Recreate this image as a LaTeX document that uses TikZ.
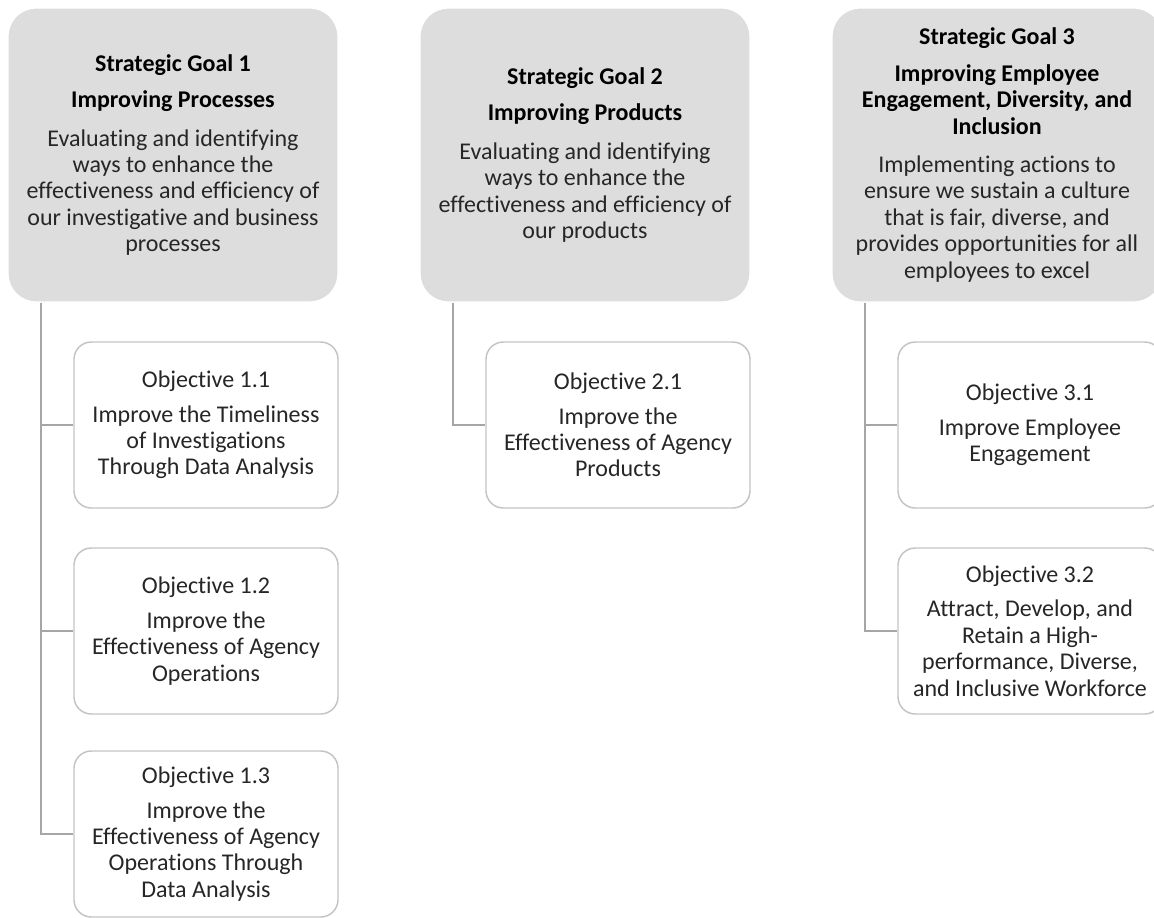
\documentclass[tikz,border=0pt]{standalone}
\usepackage{fontspec}
\setmainfont{Carlito}[Ligatures=NoCommon]
\definecolor{goalfill}{HTML}{DDDDDD}
\definecolor{objline}{HTML}{C4C4C4}
\definecolor{linkgray}{HTML}{A6A6A6}
\definecolor{bodytext}{HTML}{262626}
\newcommand{\goalhead}[1]{\textbf{\textcolor{black}{#1}}}
\tikzset{
  goal/.style={rounded corners=21pt, fill=goalfill, draw=white, line width=1pt,
    minimum width=247.5pt, minimum height=220.5pt, inner sep=0pt, align=center,
    text=bodytext, font=\fontsize{18}{19.8}\selectfont},
  objective/.style={rounded corners=13pt, fill=white, draw=objline, line width=1.1pt,
    minimum width=198pt, minimum height=124.5pt, inner sep=0pt, align=center,
    text=bodytext, font=\fontsize{18}{19.8}\selectfont},
  link/.style={draw=linkgray, line width=1.6pt}
}
\begin{document}
\begin{tikzpicture}[x=0.75pt, y=-0.75pt]
  \useasboundingbox (0,0) rectangle (1154,918);
  % Goals
  \node[goal] (g1) at (173,155) {\goalhead{Strategic Goal 1}\\[7.5pt]\goalhead{Improving Processes}\\[9pt]Evaluating and identifying\\ways to enhance the\\effectiveness and efficiency of\\our investigative and business\\processes};
  \node[goal] (g2) at (585,155) {\goalhead{Strategic Goal 2}\\[7.5pt]\goalhead{Improving Products}\\[9pt]Evaluating and identifying\\ways to enhance the\\effectiveness and efficiency of\\our products};
  \node[goal] (g3) at (997,155) {\goalhead{Strategic Goal 3}\\[7.5pt]\goalhead{Improving Employee}\\\goalhead{Engagement, Diversity, and}\\\goalhead{Inclusion}\\[9pt]Implementing actions to\\ensure we sustain a culture\\that is fair, diverse, and\\provides opportunities for all\\employees to excel};
  % Objectives
  \node[objective] (o11) at (206,425) {Objective 1.1\\[6pt]Improve the Timeliness\\of Investigations\\Through Data Analysis};
  \node[objective] (o12) at (206,631) {Objective 1.2\\[6pt]Improve the\\Effectiveness of Agency\\Operations};
  \node[objective] (o13) at (206,834) {Objective 1.3\\[6pt]Improve the\\Effectiveness of Agency\\Operations Through\\Data Analysis};
  \node[objective] (o21) at (618,425) {Objective 2.1\\[6pt]Improve the\\Effectiveness of Agency\\Products};
  \node[objective] (o31) at (1030,425) {Objective 3.1\\[6pt]Improve Employee\\Engagement};
  \node[objective] (o32) at (1030,631) {Objective 3.2\\[6pt]Attract, Develop, and\\Retain a High-\\performance, Diverse,\\and Inclusive Workforce};
  % Connectors
  \draw[link] ([xshift=25.5pt]g1.south west) |- (o11.west);
  \draw[link] ([xshift=25.5pt]g1.south west) |- (o12.west);
  \draw[link] ([xshift=25.5pt]g1.south west) |- (o13.west);
  \draw[link] ([xshift=25.5pt]g2.south west) |- (o21.west);
  \draw[link] ([xshift=25.5pt]g3.south west) |- (o31.west);
  \draw[link] ([xshift=25.5pt]g3.south west) |- (o32.west);
\end{tikzpicture}
\end{document}
